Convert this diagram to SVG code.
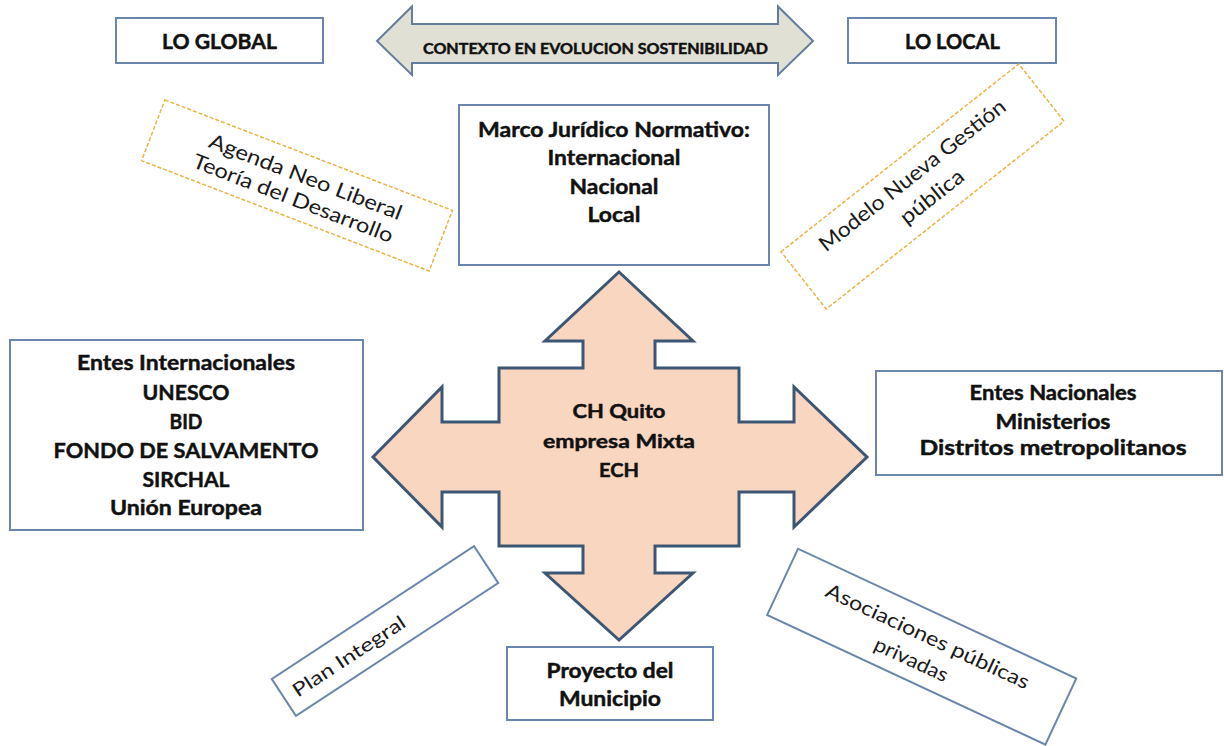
<svg xmlns="http://www.w3.org/2000/svg" width="1224" height="746" viewBox="0 0 1224 746">
<style>
  .box { fill: #ffffff; stroke: #6B86AD; stroke-width: 2; }
  .dash { fill: #ffffff; stroke: #E9B443; stroke-width: 1.5; stroke-dasharray: 4 2; }
  .b { font-family: Lato, "Open Sans", "Liberation Sans", sans-serif; font-weight: bold; fill: #111111; stroke: #111111; stroke-width: 0.45; text-anchor: middle; }
  .r { font-family: Lato, "Open Sans", "Liberation Sans", sans-serif; font-weight: normal; fill: #1a1a1a; text-anchor: middle; }
</style>
<rect width="1224" height="746" fill="#ffffff"/>

<g id="connectors">
  <g id="top-arrow">
    <path d="M377,41 L412,6.5 L412,24 L778,24 L778,6.5 L813,41 L778,75 L778,63 L412,63 L412,75 Z" fill="#E1E0D5" stroke="#667C9C" stroke-width="2" stroke-linejoin="miter"/>
    <text class="b" x="595.5" y="53.5" font-size="14.5" stroke-width="0.6" textLength="345" lengthAdjust="spacingAndGlyphs">CONTEXTO EN EVOLUCION SOSTENIBILIDAD</text>
  </g>
  <g id="cross-arrow">
    <path d="M619,272 L693,341 L655,341 L655,368 L739,368 L739,422 L794,422 L794,387 L867,457 L794,527 L794,492 L739,492 L739,546 L655,546 L655,573 L693,573 L619,640 L545,573 L583,573 L583,546 L499,546 L499,492 L442,492 L442,527 L373,457 L442,387 L442,422 L499,422 L499,368 L583,368 L583,341 L545,341 Z" fill="#F9D6C0" stroke="#3D5674" stroke-width="3" stroke-linejoin="miter"/>
  </g>
</g>

<g id="center">
  <text class="b" x="619" y="418" font-size="18" stroke-width="0.2" textLength="93" lengthAdjust="spacingAndGlyphs">CH Quito</text>
  <text class="b" x="619" y="447.5" font-size="18" stroke-width="0.2" textLength="152" lengthAdjust="spacingAndGlyphs">empresa Mixta</text>
  <text class="b" x="619" y="476.5" font-size="18" stroke-width="0.2" textLength="40" lengthAdjust="spacingAndGlyphs">ECH</text>
</g>

<g id="lo-global">
  <rect class="box" x="116" y="18" width="207" height="45"/>
  <text class="b" x="219.5" y="48.5" font-size="20" textLength="115" lengthAdjust="spacingAndGlyphs">LO GLOBAL</text>
</g>

<g id="lo-local">
  <rect class="box" x="848" y="18" width="208" height="45"/>
  <text class="b" x="952.5" y="48.5" font-size="20" textLength="95" lengthAdjust="spacingAndGlyphs">LO LOCAL</text>
</g>

<g id="marco">
  <rect class="box" x="459" y="105" width="310" height="160"/>
  <text class="b" x="614" y="136.5" font-size="21" textLength="272" lengthAdjust="spacingAndGlyphs">Marco Jurídico Normativo:</text>
  <text class="b" x="614" y="165" font-size="21" textLength="133" lengthAdjust="spacingAndGlyphs">Internacional</text>
  <text class="b" x="614" y="193.5" font-size="21" textLength="89" lengthAdjust="spacingAndGlyphs">Nacional</text>
  <text class="b" x="614" y="221.5" font-size="21" textLength="53" lengthAdjust="spacingAndGlyphs">Local</text>
</g>

<g id="agenda" transform="translate(297,185.5) rotate(21)">
  <rect class="dash" x="-154" y="-32.5" width="308" height="65"/>
  <text class="r" x="5" y="-4" font-size="20.5" textLength="205" lengthAdjust="spacingAndGlyphs">Agenda Neo Liberal</text>
  <text class="r" x="1" y="20.5" font-size="20.5" textLength="213" lengthAdjust="spacingAndGlyphs">Teoría del Desarrollo</text>
</g>

<g id="modelo" transform="translate(922.5,186.5) rotate(-38.3)">
  <rect class="dash" x="-151.5" y="-36.5" width="303" height="73"/>
  <text class="r" x="-1" y="-8" font-size="21" textLength="231" lengthAdjust="spacingAndGlyphs">Modelo Nueva Gestión</text>
  <text class="r" x="1" y="21" font-size="21" textLength="75" lengthAdjust="spacingAndGlyphs">pública</text>
</g>

<g id="entes-internacionales">
  <rect class="box" x="10" y="340" width="353" height="190"/>
  <text class="b" x="186" y="370" font-size="21" textLength="218" lengthAdjust="spacingAndGlyphs">Entes Internacionales</text>
  <text class="b" x="186" y="400" font-size="21" textLength="87" lengthAdjust="spacingAndGlyphs">UNESCO</text>
  <text class="b" x="186" y="428.5" font-size="21" textLength="33" lengthAdjust="spacingAndGlyphs">BID</text>
  <text class="b" x="186" y="457.5" font-size="21" textLength="265" lengthAdjust="spacingAndGlyphs">FONDO DE SALVAMENTO</text>
  <text class="b" x="186" y="486.5" font-size="21" textLength="87" lengthAdjust="spacingAndGlyphs">SIRCHAL</text>
  <text class="b" x="186" y="515" font-size="21" textLength="152" lengthAdjust="spacingAndGlyphs">Unión Europea</text>
</g>

<g id="entes-nacionales">
  <rect class="box" x="876" y="371" width="346" height="104"/>
  <text class="b" x="1053" y="400" font-size="20" textLength="167" lengthAdjust="spacingAndGlyphs">Entes Nacionales</text>
  <text class="b" x="1053" y="428.5" font-size="20" textLength="115" lengthAdjust="spacingAndGlyphs">Ministerios</text>
  <text class="b" x="1053" y="455" font-size="20" textLength="267" lengthAdjust="spacingAndGlyphs">Distritos metropolitanos</text>
</g>

<g id="plan-integral" transform="translate(385,631) rotate(-33.3)">
  <rect class="box" x="-121" y="-22" width="242" height="44" stroke-width="1.5"/>
  <text class="r" x="-44" y="8" font-size="19" textLength="131" lengthAdjust="spacingAndGlyphs">Plan Integral</text>
</g>

<g id="proyecto">
  <rect class="box" x="507" y="647" width="206" height="73"/>
  <text class="b" x="610" y="677.5" font-size="20" textLength="127" lengthAdjust="spacingAndGlyphs">Proyecto del</text>
  <text class="b" x="610" y="706" font-size="20" textLength="102" lengthAdjust="spacingAndGlyphs">Municipio</text>
</g>

<g id="asociaciones" transform="translate(921.7,646.7) rotate(25)">
  <rect class="box" x="-153.5" y="-36.5" width="307" height="73" stroke-width="1.5"/>
  <text class="r" x="1" y="-5" font-size="20" textLength="222" lengthAdjust="spacingAndGlyphs">Asociaciones públicas</text>
  <text class="r" x="-4" y="23" font-size="20" textLength="79" lengthAdjust="spacingAndGlyphs">privadas</text>
</g>
</svg>
